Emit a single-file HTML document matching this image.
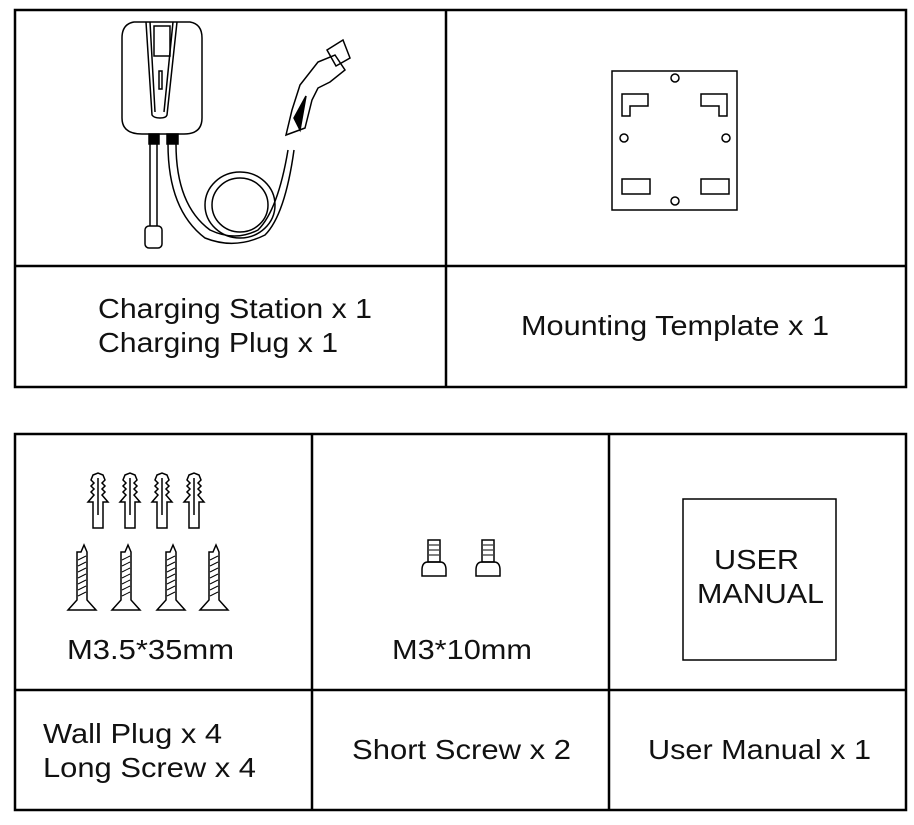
<!DOCTYPE html>
<html><head><style>
html,body{margin:0;padding:0;background:#fff;}
svg{display:block}
text{font-family:"Liberation Sans",Arial,sans-serif;fill:#111;}
</style></head><body>
<svg width="914" height="825" viewBox="0 0 914 825" xmlns="http://www.w3.org/2000/svg">
<g fill="none" stroke="#000" stroke-width="2.5">
<rect x="15" y="10" width="891" height="377"/>
<line x1="446" y1="10" x2="446" y2="387"/>
<line x1="15" y1="266" x2="906" y2="266"/>
<rect x="15" y="434" width="891" height="376"/>
<line x1="312" y1="434" x2="312" y2="810"/>
<line x1="609" y1="434" x2="609" y2="810"/>
<line x1="15" y1="690" x2="906" y2="690"/>
</g>
<g fill="none" stroke="#000" stroke-width="1.5">
<path d="M134,22 Q122,24 122,38 L122,118 Q122,134 142,134 L184,134 Q202,134 202,118 L202,38 Q202,24 190,22 Z"/>
<path d="M146,22 L152,115 Q154,118 160,118 Q166,118 167,115 L177,22"/>
<path d="M150,22 L155,112 M173,22 L164,112"/>
<rect x="154" y="26" width="16" height="30"/>
<rect x="159" y="71" width="3" height="18"/>
<rect x="149" y="134" width="10" height="10" fill="#000"/>
<rect x="167" y="134" width="11" height="10" fill="#000"/>
<path d="M150,144 L150,226 M157,144 L157,226"/>
<rect x="145" y="226" width="17" height="22" rx="4"/>
<path d="M168,144 Q168,210 205,238 Q235,250 265,235 Q285,215 294,150"/>
<path d="M176,144 Q176,205 210,230 Q235,242 258,230 Q278,210 288,150"/>
<ellipse cx="240" cy="205" rx="35" ry="33"/>
<ellipse cx="240" cy="205" rx="28" ry="27"/>
<path d="M286,135 L292,110 L300,85 L318,62 L335,55 L345,70 L330,82 L318,88 L312,100 L305,128 Z"/>
<path d="M294,118 L306,96 L300,130 Z" fill="#000"/>
<path d="M327,50 L343,40 L350,58 L336,66 Z"/>
</g>
<g fill="none" stroke="#000" stroke-width="1.5">
<rect x="612" y="71" width="125" height="139"/>
<circle cx="675" cy="78" r="4"/><circle cx="675" cy="201" r="4"/>
<circle cx="624" cy="138" r="4"/><circle cx="726" cy="138" r="4"/>
<path d="M622,94 L648,94 L648,106 L630,106 L630,116 L622,116 Z"/>
<path d="M701,94 L727,94 L727,116 L719,116 L719,106 L701,106 Z"/>
<rect x="622" y="179" width="28" height="15"/>
<rect x="701" y="179" width="28" height="15"/>
</g>
<g fill="none" stroke="#000" stroke-width="1.5">
<g id="wp"><path d="M93,475 L98,473 L103,475 L105,480 L102,483 L105,486 L102,489 L105,492 L102,495 L108,502 L103,502 L103,528 L93,528 L93,502 L88,502 L94,495 L91,492 L94,489 L91,486 L94,483 L91,480 Z"/><line x1="98" y1="478" x2="98" y2="515"/></g>
<use href="#wp" x="32"/><use href="#wp" x="64"/><use href="#wp" x="96"/>
<g id="sc"><path d="M81,552 L84,545 L87,552 L87,600 L96,610 L68,610 L77,600 L77,552 Z"/><path d="M78,560 L86,556 M78,566 L86,562 M78,572 L86,568 M78,578 L86,574 M78,584 L86,580 M78,590 L86,586 M78,596 L86,592" stroke-width="1"/></g>
<use href="#sc" x="44"/><use href="#sc" x="89"/><use href="#sc" x="132"/>
<g id="ss"><rect x="428" y="540" width="12" height="22"/><path d="M422,570 Q422,562 428,562 L440,562 Q446,562 446,570 L446,576 L422,576 Z"/><path d="M429,545 L439,545 M429,550 L439,550 M429,555 L439,555" stroke-width="1"/></g>
<use href="#ss" x="54"/>
<rect x="683" y="499" width="153" height="161"/>
</g>
<g font-size="28">
<text x="98" y="318" textLength="274" lengthAdjust="spacingAndGlyphs">Charging Station x 1</text>
<text x="98" y="352" textLength="240" lengthAdjust="spacingAndGlyphs">Charging Plug x 1</text>
<text x="521" y="335" textLength="308" lengthAdjust="spacingAndGlyphs">Mounting Template x 1</text>
<text x="67" y="659" textLength="167" lengthAdjust="spacingAndGlyphs">M3.5*35mm</text>
<text x="392" y="659" textLength="140" lengthAdjust="spacingAndGlyphs">M3*10mm</text>
<text x="714" y="569" textLength="85" lengthAdjust="spacingAndGlyphs">USER</text>
<text x="697" y="603" textLength="127" lengthAdjust="spacingAndGlyphs">MANUAL</text>
<text x="43" y="743" textLength="179" lengthAdjust="spacingAndGlyphs">Wall Plug x 4</text>
<text x="43" y="777" textLength="213" lengthAdjust="spacingAndGlyphs">Long Screw x 4</text>
<text x="352" y="759" textLength="219" lengthAdjust="spacingAndGlyphs">Short Screw x 2</text>
<text x="648" y="759" textLength="223" lengthAdjust="spacingAndGlyphs">User Manual x 1</text>
</g>
</svg>
</body></html>
